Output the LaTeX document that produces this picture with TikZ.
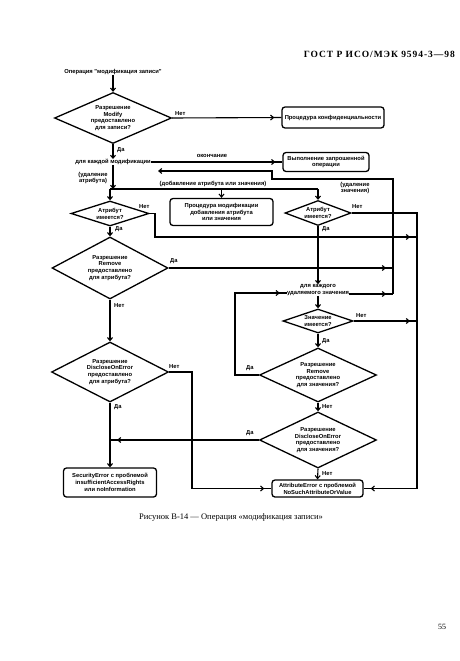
\documentclass[tikz,border=0pt]{standalone}
\usepackage{fontspec}
\setmainfont{Liberation Serif}
\newfontfamily\dsans{Liberation Sans}
\newfontfamily\hdrfont[LetterSpace=10]{Liberation Serif}
\usetikzlibrary{shapes.geometric,arrows.meta,decorations.markings}
\tikzset{
  dtxt/.style={font=\dsans\bfseries\fontsize{5.8}{6.8}\selectfont, align=center, inner sep=0pt},
  dia/.style={diamond, draw, line width=1.3pt, inner sep=0pt},
  bx/.style={draw, rounded corners=3pt, line width=1.3pt, inner sep=0pt, dtxt},
  ln/.style={line width=1.1pt},
  arr/.style={ln, -{Straight Barb[length=3pt,width=5pt]}},
  garr/.style={ln, postaction={decorate}, decoration={markings, mark=at position -7pt with {\arrow{Straight Barb[length=3pt,width=5pt]}}}},
}
\begin{document}
\begin{tikzpicture}[x=1pt,y=-1pt]
\useasboundingbox (0,0) rectangle (460,661);
\fill[white] (0,0) rectangle (460,661);
% header, caption, page
\node[font=\hdrfont\bfseries\fontsize{9.5}{11}\selectfont, anchor=base east, inner sep=0pt] (hdr) at (455,58) {ГОСТ Р ИСО/МЭК 9594-3—98};
\node[font=\fontsize{8.5}{10}\selectfont, inner sep=0pt] (cap) at (231,517) {Рисунок В-14 — Операция «модификация записи»};
\node[font=\fontsize{8}{10}\selectfont, inner sep=0pt] (pg) at (442,627) {55};

% nodes
\node[dtxt] (title) at (113,72) {Операция "модификация записи"};
\node[dia, minimum width=117pt, minimum height=51pt] (d1) at (113,118) {};
\node[dtxt] at (d1) {Разрешение\\Modify\\предоставлено\\для записи?};
\node[bx, minimum width=102pt, minimum height=21pt] (bConf) at (333,117.5) {Процедура конфиденциальности};
\node[dtxt] (loop1) at (113,162) {для каждой модификации};
\node[bx, minimum width=86pt, minimum height=19pt] (bExec) at (326,162) {Выполнение запрошенной\\операции};

\node[dia, minimum width=78pt, minimum height=25pt] (dA) at (110,213.5) {};
\node[dtxt] at (dA) {Атрибут\\имеется?};
\node[bx, minimum width=103pt, minimum height=27pt] (bProc) at (221.5,212) {Процедура модификации\\добавления атрибута\\или значения};
\node[dia, minimum width=66pt, minimum height=25pt] (dB) at (318,213) {};
\node[dtxt] at (dB) {Атрибут\\имеется?};

\node[dia, minimum width=116pt, minimum height=62pt] (dRA) at (110,268) {};
\node[dtxt] at (dRA) {Разрешение\\Remove\\предоставлено\\для атрибута?};
\node[dia, minimum width=117pt, minimum height=60pt] (dDA) at (110,372) {};
\node[dtxt] at (dDA) {Разрешение\\DiscloseOnError\\предоставлено\\для атрибута?};
\node[bx, minimum width=93pt, minimum height=29pt] (bSec) at (110,482.5) {SecurityError с проблемой\\insufficientAccessRights\\или noInformation};

\node[dtxt] (loop2) at (318,290) {для каждого\\удаляемого значения};
\node[dia, minimum width=70pt, minimum height=24pt] (dV) at (318,321) {};
\node[dtxt] at (dV) {Значение\\имеется?};
\node[dia, minimum width=117pt, minimum height=54pt] (dRV) at (318,375) {};
\node[dtxt] at (dRV) {Разрешение\\Remove\\предоставлено\\для значения?};
\node[dia, minimum width=117pt, minimum height=56pt] (dDV) at (318,440) {};
\node[dtxt] at (dDV) {Разрешение\\DiscloseOnError\\предоставлено\\для значения?};
\node[bx, minimum width=91pt, minimum height=17pt] (bAttr) at (317.5,488.5) {AttributeError с проблемой\\NoSuchAttributeOrValue};

% coordinates
\coordinate (rA) at (393,294);
\coordinate (rB) at (393,179);
\coordinate (rC) at (272,179);
\coordinate (rD) at (272,171);
\coordinate (ret) at (158,171);
\coordinate (bj) at (113,189);
\coordinate (busL) at (110,189);
\coordinate (busR) at (318,189);
\coordinate (c2) at (155,237);
\coordinate (vR1) at (417,237);
\coordinate (vRbot) at (417,488.5);
\coordinate (rR) at (393,268);
\coordinate (lq) at (192,488.5);
\coordinate (lp) at (235,293);

% connectors
\draw[arr] (title) -- (d1.north);
\draw[garr] (d1.east) -- (bConf.west);
\draw[arr] (d1.south) -- (loop1.north);
\draw[garr] (loop1.east) -- (bExec.west);
\draw[arr] (rA) -- (rB) -- (rC) -- (rD) -- (ret);
\draw[arr] (loop1.south) -- (bj);
\draw[ln] (busL) -- (busR);
\draw[arr] (busL) -- (dA.north);
\draw[arr] (busR) -- (dB.north);
\draw[arr] (bProc.north |- busL) -- (bProc.north);
\draw[garr] (dA.east) -| (c2) -- (vR1);
\draw[garr] (dB.east) -| (vRbot) -- (bAttr.east);
\draw[arr] (dA.south) -- (dRA.north);
\draw[garr] (dRA.east) -- (rR);
\draw[arr] (dRA.south) -- (dDA.north);
\draw[garr] (dDA.east) -| (lq) -- (bAttr.west);
\draw[arr] (dDA.south) -- (bSec.north);
\draw[arr] (dB.south) -- (loop2.north);
\draw[garr] (loop2.east |- rA) -- (rA);
\draw[arr] (loop2.south) -- (dV.north);
\draw[garr] (dV.east) -- (dV.east -| vR1);
\draw[arr] (dV.south) -- (dRV.north);
\draw[garr] (dRV.west) -| (lp) -- (loop2.west |- lp);
\draw[arr] (dRV.south) -- (dDV.north);
\draw[garr] (dDV.west) -- (bSec.north |- dDV.west);
\draw[arr] (dDV.south) -- (bAttr.north);

% labels
\node[dtxt, anchor=west] (l1) at (175,114) {Нет};
\node[dtxt, anchor=west] (l2) at (117,150) {Да};
\node[dtxt] (l3) at (212,156) {окончание};
\node[dtxt] (l4) at (93,178) {(удаление\\атрибута)};
\node[dtxt] (l5) at (213,184) {(добавление атрибута или значения)};
\node[dtxt] (l6) at (355,188) {(удаление\\значения)};
\node[dtxt, anchor=west] (l7) at (139,207) {Нет};
\node[dtxt, anchor=west] (l8) at (115,229) {Да};
\node[dtxt, anchor=west] (l9) at (352,207) {Нет};
\node[dtxt, anchor=west] (l10) at (322,229) {Да};
\node[dtxt, anchor=west] (l11) at (170,261) {Да};
\node[dtxt, anchor=west] (l12) at (114,306) {Нет};
\node[dtxt, anchor=west] (l13) at (356,316) {Нет};
\node[dtxt, anchor=west] (l14) at (322,341) {Да};
\node[dtxt, anchor=west] (l15) at (169,367) {Нет};
\node[dtxt, anchor=west] (l16) at (246,368) {Да};
\node[dtxt, anchor=west] (l17) at (114,407) {Да};
\node[dtxt, anchor=west] (l18) at (322,407) {Нет};
\node[dtxt, anchor=west] (l19) at (246,433) {Да};
\node[dtxt, anchor=west] (l20) at (322,474) {Нет};
\end{tikzpicture}
\end{document}
